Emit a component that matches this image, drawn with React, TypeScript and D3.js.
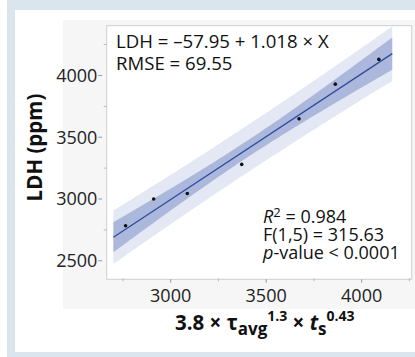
import React from "react";
import * as d3 from "d3";

const xVals = [2764, 2911, 3087, 3372, 3672, 3862, 4090];
const yVals = [2784, 3000, 3045, 3280, 3649, 3930, 4130];
const intercept = -57.95;
const slope = 1.018;
const rmse = 69.55;
const tCrit = 2.571;
const fitRange = [2700, 4160];
const xMajor = [3000, 3500, 4000];
const xMinor = [2750, 3250, 3750, 4250];
const yMajor = [2500, 3000, 3500, 4000];
const yMinor = [2750, 3250, 3750, 4250];

const W = 415;
const H = 357;
const L = 106.7, R = 411.7, T = 25.7, B = 279.3;
const FONT = "'Open Sans', sans-serif";

export default function App() {
  const x = d3.scaleLinear().domain([2665, 4262]).range([L, R]);
  const y = d3.scaleLinear().domain([2350, 4403]).range([B, T]);

  const n = xVals.length;
  const xbar = d3.mean(xVals) as number;
  const sxx = d3.sum(xVals, (v) => (v - xbar) ** 2);
  const grid = d3.range(fitRange[0], fitRange[1] + 0.1, 10);
  const fit = (v: number) => intercept + slope * v;
  const ci = (v: number) => tCrit * rmse * Math.sqrt(1 / n + (v - xbar) ** 2 / sxx);
  const pi = (v: number) => tCrit * rmse * Math.sqrt(1 + 1 / n + (v - xbar) ** 2 / sxx);

  const areaPI = d3.area<number>().x((v) => x(v)).y0((v) => y(fit(v) - pi(v))).y1((v) => y(fit(v) + pi(v)));
  const areaCI = d3.area<number>().x((v) => x(v)).y0((v) => y(fit(v) - ci(v))).y1((v) => y(fit(v) + ci(v)));
  const line = d3.line<number>().x((v) => x(v)).y((v) => y(fit(v)));

  return (
    <svg width={W} height={H} style={{ position: "absolute", left: 0, top: 0 }} fontFamily={FONT}>
      <rect x={0} y={0} width={W} height={H} fill="#ffffff" />
      <rect x={7} y={0} width={W - 7} height={H} fill="#dbe5ed" />
      <rect x={15} y={10} width={W - 15} height={342} fill="#ffffff" />
      <rect x={63} y={20} width={W - 63} height={289} fill="#f6f6f6" />
      <rect x={L} y={T} width={R - L} height={B - T} fill="#ffffff" stroke="#cfcfcf" strokeWidth={1} />

      <clipPath id="clip">
        <rect x={L} y={T} width={R - L} height={B - T} />
      </clipPath>
      <g clipPath="url(#clip)">
        <path d={areaPI(grid) as string} fill="#e3e8f4" />
        <path d={areaCI(grid) as string} fill="#abb8dc" />
        <path d={line(fitRange) as string} fill="none" stroke="#2c4a9c" strokeWidth={1.2} />
        {xVals.map((v, i) => (
          <circle key={i} cx={x(v)} cy={y(yVals[i])} r={1.8} fill="#111" />
        ))}
      </g>

      {yMajor.map((v) => (
        <g key={"ym" + v}>
          <line x1={L - 8.5} x2={L - 4.5} y1={y(v)} y2={y(v)} stroke="#9a9a9a" />
          <text x={97.3} y={y(v)} dy="0.36em" textAnchor="end" fontSize={18} fill="#222">{v}</text>
        </g>
      ))}
      {yMinor.filter((v) => y(v) > T).map((v) => (
        <line key={"yn" + v} x1={L - 3} x2={L} y1={y(v)} y2={y(v)} stroke="#bbbbbb" />
      ))}
      {xMajor.map((v) => (
        <g key={"xm" + v}>
          <line x1={x(v)} x2={x(v)} y1={B} y2={B + 3.5} stroke="#9a9a9a" />
          <text x={x(v)} y={301.7} textAnchor="middle" fontSize={18} fill="#222">{v}</text>
        </g>
      ))}
      {xMinor.filter((v) => x(v) < R).map((v) => (
        <line key={"xn" + v} x1={x(v)} x2={x(v)} y1={B - 1} y2={B + 2} stroke="#bbbbbb" />
      ))}

      <text x={116} y={47.7} fontSize={18.6} fill="#111">LDH = –57.95 + 1.018 × X</text>
      <text x={116} y={70} fontSize={18.6} fill="#111">RMSE = 69.55</text>

      <text x={263} y={222.7} fontSize={18} fill="#111">
        <tspan fontStyle="italic">R</tspan>
        <tspan fontSize={13} dy={-6}>2</tspan>
        <tspan dy={6}> = 0.984</tspan>
      </text>
      <text x={263} y={241} fontSize={18} fill="#111">F(1,5) = 315.63</text>
      <text x={263} y={259.3} fontSize={18} fill="#111">
        <tspan fontStyle="italic">p</tspan>-value &lt; 0.0001
      </text>

      <text transform="translate(41.7,147.5) rotate(-90)" textAnchor="middle" fontSize={20.5} fontWeight="bold" fill="#111">LDH (ppm)</text>

      <text x={175} y={330} fontSize={20.5} fontWeight="bold" fill="#111">
        3.8 × τ
        <tspan fontSize={17} dy={5}>avg</tspan>
        <tspan fontSize={14} dy={-14}>1.3</tspan>
        <tspan dy={9}> × </tspan>
        <tspan fontStyle="italic">t</tspan>
        <tspan fontSize={17} dy={5}>s</tspan>
        <tspan fontSize={14} dy={-14}>0.43</tspan>
      </text>
    </svg>
  );
}
